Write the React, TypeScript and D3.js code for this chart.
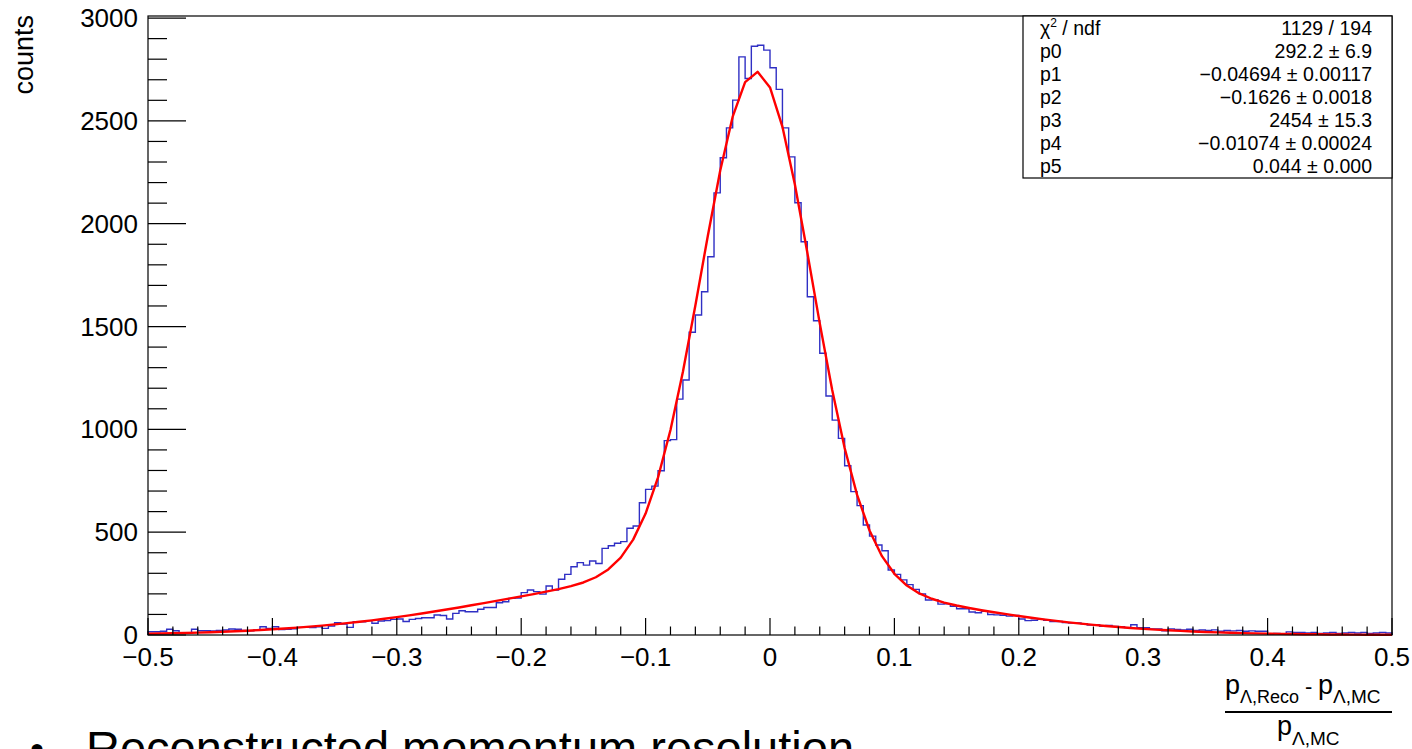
import React from "react";
import * as d3 from "d3";

// ---- data ----
const binLow = -0.5;
const binWidth = 0.005;
const counts: number[] = [
  16, 16, 18, 28, 21, 10, 8, 28, 21, 21,
  20, 22, 24, 29, 28, 22, 21, 24, 40, 32,
  40, 27, 28, 30, 37, 37, 36, 40, 32, 44,
  60, 53, 37, 65, 64, 70, 57, 68, 70, 76,
  78, 66, 76, 80, 84, 84, 97, 95, 78, 105,
  118, 113, 113, 125, 134, 134, 157, 162, 178, 180,
  206, 219, 211, 199, 238, 218, 271, 295, 332, 352,
  340, 360, 348, 421, 434, 446, 454, 519, 530, 643,
  708, 724, 799, 945, 950, 1147, 1240, 1472, 1556, 1669,
  1839, 2150, 2321, 2466, 2601, 2811, 2706, 2863, 2868, 2844,
  2758, 2653, 2466, 2325, 2102, 1912, 1645, 1528, 1370, 1162,
  1045, 956, 823, 697, 629, 535, 481, 438, 410, 316,
  295, 268, 245, 222, 200, 170, 172, 150, 152, 140,
  128, 128, 112, 108, 115, 100, 98, 96, 92, 95,
  78, 70, 72, 76, 72, 65, 66, 60, 58, 58,
  55, 48, 50, 42, 46, 42, 40, 36, 50, 35,
  35, 30, 30, 20, 30, 27, 25, 28, 22, 24,
  22, 25, 18, 22, 20, 22, 18, 20, 18, 18,
  5, 8, 6, 15, 12, 12, 10, 12, 8, 10,
  12, 8, 10, 12, 10, 12, 8, 10, 12, 10,
];

const fitXMin = -0.5;
const fitStep = 0.01;
const fitValues: number[] = [
  6.0, 7.1, 8.4, 9.9, 11.6, 13.5, 15.7, 18.2, 21.0, 24.2,
  27.7, 31.6, 35.9, 40.6, 45.8, 51.5, 57.6, 64.2, 71.3, 79.0,
  87.1, 95.6, 104.6, 114.0, 123.8, 134.0, 144.4, 155.0, 165.9, 176.8,
  187.8, 199.0, 210.6, 222.9, 237.3, 255.4, 280.8, 318.8, 376.5, 463.8,
  590.7, 766.6, 997.1, 1280.1, 1602.7, 1940.3, 2259.1, 2520.3, 2688.5, 2738.5,
  2662.4, 2470.9, 2191.0, 1859.6, 1515.4, 1191.1, 909.3, 681.3, 508.2, 383.4,
  297.7, 240.3, 202.2, 176.3, 157.8, 143.4, 131.3, 120.5, 110.5, 101.2,
  92.2, 83.8, 75.9, 68.5, 61.6, 55.1, 49.2, 43.7, 38.7, 34.1,
  30.0, 26.3, 22.9, 19.9, 17.2, 14.8, 12.8, 10.9, 9.3, 7.9,
  6.7, 5.6, 4.7, 4.0, 3.3, 2.7, 2.3, 1.9, 1.5, 1.3, 1.0,
];

const xMajorTicks = [-0.5, -0.4, -0.3, -0.2, -0.1, 0, 0.1, 0.2, 0.3, 0.4, 0.5];
const xTickLabels = ["\u22120.5", "\u22120.4", "\u22120.3", "\u22120.2", "\u22120.1", "0", "0.1", "0.2", "0.3", "0.4", "0.5"];
const yMajorTicks = [0, 500, 1000, 1500, 2000, 2500, 3000];
const yTickLabels = ["0", "500", "1000", "1500", "2000", "2500", "3000"];

const statLabels = ["chi2", "p0", "p1", "p2", "p3", "p4", "p5"];
const statValues = [
  "1129 / 194",
  "292.2 \u00b1 6.9",
  "\u22120.04694 \u00b1 0.00117",
  "\u22120.1626 \u00b1 0.0018",
  "2454 \u00b1 15.3",
  "\u22120.01074 \u00b1 0.00024",
  "0.044 \u00b1 0.000",
];

const W = 1412;
const H = 749;
const FONT = "'Liberation Sans', Arial, Helvetica, sans-serif";

export default function App() {
  const left = 148, right = 1392, top = 16, bottom = 635;
  const x = d3.scaleLinear().domain([-0.5, 0.5]).range([left, right]);
  const y = d3.scaleLinear().domain([0, 3010]).range([bottom, top]);

  // histogram outline
  const histPts: [number, number][] = [[binLow, 0]];
  counts.forEach((c, i) => histPts.push([binLow + i * binWidth, c]));
  histPts.push([binLow + counts.length * binWidth, counts[counts.length - 1]]);
  histPts.push([binLow + counts.length * binWidth, 0]);
  const histLine = d3
    .line<[number, number]>()
    .x((d) => x(d[0]))
    .y((d) => y(d[1]))
    .curve(d3.curveStepAfter);
  const histPath = histLine(histPts) || "";

  const fitLine = d3
    .line<number>()
    .x((_, i) => x(fitXMin + i * fitStep))
    .y((d) => y(d));
  const fitPath = fitLine(fitValues) || "";

  const xMinor = d3.range(-0.5, 0.5001, 0.02).filter((v) => Math.abs(Math.round(v * 10) - v * 10) > 1e-6);
  const yMinor = d3.range(0, 3001, 100).filter((v) => v % 500 !== 0);

  const boxL = 1023, boxR = 1392, boxT = 16, boxB = 178;
  const rowH = (boxB - boxT) / 7;

  return (
    <svg
      width={W}
      height={H}
      style={{ position: "absolute", left: 0, top: 0, background: "#fff" }}
      fontFamily={FONT}
    >
      <rect x={0} y={0} width={W} height={H} fill="#fff" />
      {/* histogram */}
      <path d={histPath} fill="none" stroke="#2f2fc4" strokeWidth={1.4} />
      {/* fit */}
      <path d={fitPath} fill="none" stroke="#ff0000" strokeWidth={2.4} strokeLinejoin="round" />

      {/* frame */}
      <rect x={left} y={top} width={right - left} height={bottom - top} fill="none" stroke="#000" strokeWidth={1.2} />

      {/* y axis ticks */}
      {yMajorTicks.map((v) => (
        <line key={"ym" + v} x1={left} x2={left + 38} y1={y(v)} y2={y(v)} stroke="#000" strokeWidth={1.2} />
      ))}
      {yMinor.map((v) => (
        <line key={"yn" + v} x1={left} x2={left + 19} y1={y(v)} y2={y(v)} stroke="#000" strokeWidth={1.2} />
      ))}
      {yMajorTicks.map((v, i) => (
        <text key={"yl" + v} x={138} y={y(v) + 9} fontSize={26} textAnchor="end" fill="#000">
          {yTickLabels[i]}
        </text>
      ))}

      {/* x axis ticks */}
      {xMajorTicks.map((v) => (
        <line key={"xm" + v} x1={x(v)} x2={x(v)} y1={bottom} y2={bottom - 17} stroke="#000" strokeWidth={1.2} />
      ))}
      {xMinor.map((v) => (
        <line key={"xn" + v} x1={x(v)} x2={x(v)} y1={bottom} y2={bottom - 8.5} stroke="#000" strokeWidth={1.2} />
      ))}
      {xMajorTicks.map((v, i) => (
        <text key={"xl" + v} x={x(v)} y={666} fontSize={26} textAnchor="middle" fill="#000">
          {xTickLabels[i]}
        </text>
      ))}

      {/* y title */}
      <text transform="translate(33,15) rotate(-90)" fontSize={27} textAnchor="end" fill="#000">
        counts
      </text>

      {/* x title: fraction */}
      <g fill="#000">
        <text x={1225} y={694} fontSize={27}>p</text>
        <text x={1240} y={703} fontSize={18}>{"\u039b,Reco"}</text>
        <text x={1305} y={694} fontSize={22}>-</text>
        <text x={1318} y={694} fontSize={27}>p</text>
        <text x={1333} y={703} fontSize={19}>{"\u039b,MC"}</text>
        <line x1={1225} x2={1392} y1={712} y2={712} stroke="#000" strokeWidth={2} />
        <text x={1277} y={735} fontSize={27}>p</text>
        <text x={1292} y={745} fontSize={19}>{"\u039b,MC"}</text>
      </g>

      {/* stats box */}
      <rect x={boxL} y={boxT} width={boxR - boxL} height={boxB - boxT} fill="#fff" stroke="#000" strokeWidth={1.2} />
      {statLabels.map((lab, i) => {
        const by = boxT + rowH * (i + 0.5) + 7;
        return (
          <g key={"st" + i} fontSize={19.5} fill="#000">
            {lab === "chi2" ? (
              <text x={1040} y={by}>
                {"\u03c7"}
                <tspan fontSize={12} dy={-8}>2</tspan>
                <tspan dy={8}>{" / ndf"}</tspan>
              </text>
            ) : (
              <text x={1040} y={by}>{lab}</text>
            )}
            <text x={1372} y={by} textAnchor="end">{statValues[i]}</text>
          </g>
        );
      })}

      {/* slide bullet text (cut off at bottom) */}
      <text x={30} y={763} fontSize={40} fill="#000">{"\u2022"}</text>
      <text x={86} y={764} fontSize={47} fill="#000">Reconstructed momentum resolution</text>
    </svg>
  );
}
